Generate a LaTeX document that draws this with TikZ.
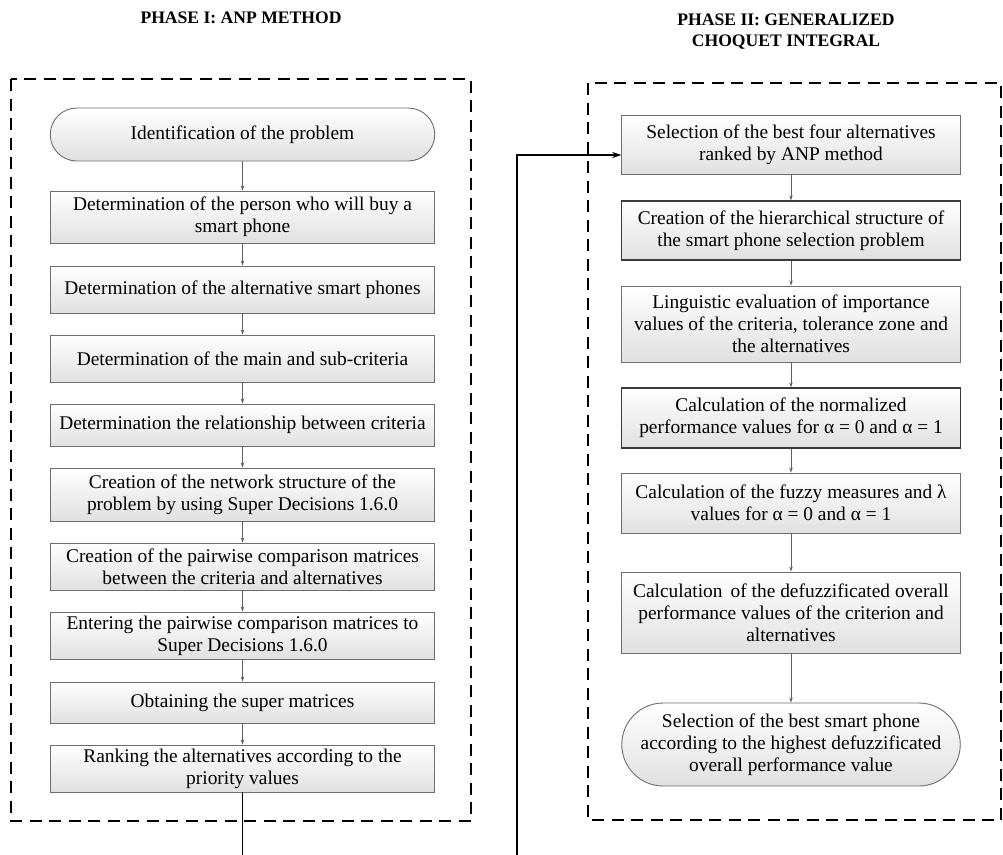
\documentclass[tikz,border=0pt]{standalone}
\usepackage{fontspec}
\setmainfont{Liberation Serif}
\usetikzlibrary{arrows.meta,positioning,calc}

\definecolor{boxline}{HTML}{6E6E6E}
\definecolor{boxdark}{HTML}{3A3A3A}
\definecolor{flowgray}{HTML}{606060}

\tikzset{
  every node/.style={font=\fontsize{19.4}{22}\selectfont, text=black},
  procbox/.style={draw=boxline, line width=0.9pt, top color=white, bottom color=black!12,
    align=center, inner sep=0pt, rectangle},
  leftbox/.style={procbox, minimum width=384.5pt},
  rightbox/.style={procbox, minimum width=338.5pt},
  darkedge/.style={draw=boxdark, line width=1.3pt},
  terminal/.style={procbox, minimum width=#1},
  phasetitle/.style={font=\fontsize{17.6}{21}\selectfont\bfseries, align=center},
  phaseframe/.style={draw=black, line width=1.3pt, dash pattern=on 12pt off 7.5pt},
  flow/.style={draw=flowgray, line width=0.8pt, -{Stealth[length=5pt,width=3.5pt]}},
  handover/.style={draw=black, line width=1.8pt, -{Stealth[length=9pt,width=6pt]}}
}

\begin{document}
\begin{tikzpicture}[x=1pt,y=-1pt]
\clip (0,0) rectangle (1003,854);
\fill[white] (0,0) rectangle (1003,854);

% phase headings
\node[phasetitle] (t1) at (241,18) {PHASE I: ANP METHOD};
\node[phasetitle] (t2) at (786,32) {PHASE II: GENERALIZED\\CHOQUET INTEGRAL};

% dashed phase frames
\draw[phaseframe] (11,79) rectangle (471,821);
\draw[phaseframe] (588,83) rectangle (1001,820);

% phase I: ANP steps
\node[terminal=384.5pt, minimum height=53pt, rounded corners=26.5pt] (a0) at (242.5,134.5)
  {Identification of the problem};
\node[leftbox, minimum height=52pt] (a1) at (242.5,217)
  {Determination of the person who will buy a\\smart phone};
\node[leftbox, minimum height=47pt] (a2) at (242.5,289.5)
  {Determination of the alternative smart phones};
\node[leftbox, minimum height=47pt] (a3) at (242.5,358.5)
  {Determination of the main and sub-criteria};
\node[leftbox, minimum height=42pt] (a4) at (242.5,425)
  {Determination the relationship between criteria};
\node[leftbox, minimum height=53pt] (a5) at (242.5,494.5)
  {Creation of the network structure of the\\problem by using Super Decisions 1.6.0};
\node[leftbox, minimum height=47pt] (a6) at (242.5,566.5)
  {Creation of the pairwise comparison matrices\\between the criteria and alternatives};
\node[leftbox, minimum height=47pt] (a7) at (242.5,635.5)
  {Entering the pairwise comparison matrices to\\Super Decisions 1.6.0};
\node[leftbox, minimum height=41pt] (a8) at (242.5,702.5)
  {Obtaining the super matrices};
\node[leftbox, minimum height=47pt] (a9) at (242.5,768.5)
  {Ranking the alternatives according to the\\priority values};

% phase II: generalized Choquet integral steps
\node[rightbox, minimum height=59pt] (b0) at (791,144.5)
  {Selection of the best four alternatives\\ranked by ANP method};
\node[rightbox, darkedge, minimum height=59pt] (b1) at (791,230.5)
  {Creation of the hierarchical structure of\\the smart phone selection problem};
\node[rightbox, minimum height=76pt] (b2) at (791,324)
  {Linguistic evaluation of importance\\values of the criteria, tolerance zone and\\the alternatives};
\node[rightbox, darkedge, minimum height=60pt] (b3) at (791,418)
  {Calculation of the normalized\\performance values for α = 0 and α = 1};
\node[rightbox, minimum height=60pt] (b4) at (791,503)
  {Calculation of the fuzzy measures and λ\\values for α = 0 and α = 1};
\node[rightbox, minimum height=81pt] (b5) at (791,612.5)
  {Calculation\, of the defuzzificated overall\\performance values of the criterion and\\alternatives};
\node[terminal=338.5pt, minimum height=83pt, rounded corners=41.5pt] (b6) at (791,744.5)
  {Selection of the best smart phone\\according to the highest defuzzificated\\overall performance value};

% step-to-step arrows
\foreach \u/\v in {a0/a1,a1/a2,a2/a3,a3/a4,a4/a5,a5/a6,a6/a7,a7/a8,a8/a9,
                   b0/b1,b1/b2,b2/b3,b3/b4,b4/b5,b5/b6}
  \draw[flow] (\u.south) -- (\v.north);

% hand-over from phase I to phase II (runs below the visible area)
\coordinate (low) at (517,880);
\draw[handover] (a9.south) |- (low) |- ([yshift=-10.5pt]b0.west);
\end{tikzpicture}
\end{document}
